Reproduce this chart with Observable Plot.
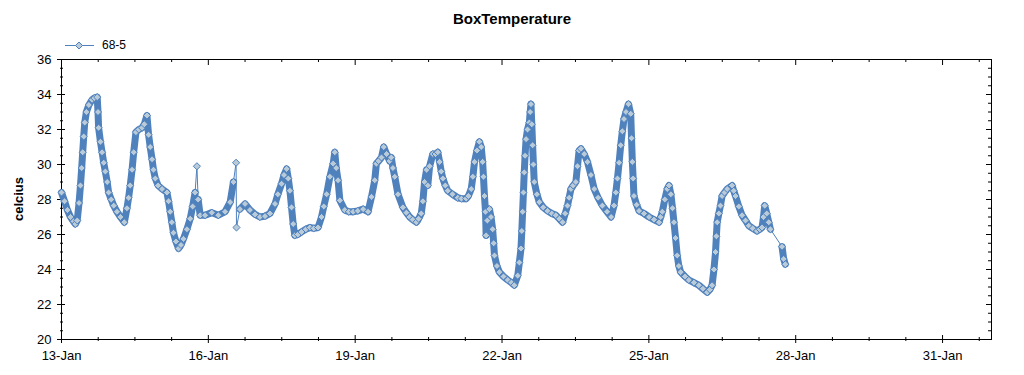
<!DOCTYPE html>
<html><head><meta charset="utf-8">
<script src="https://cdn.jsdelivr.net/npm/d3@7"></script>
<script src="https://cdn.jsdelivr.net/npm/@observablehq/plot@0.6"></script>
<style>
body{margin:0;background:#fff;font-family:"Liberation Sans",Arial,sans-serif;color:#000}
#wrap{position:relative;width:1024px;height:375px;overflow:hidden;background:#fff}
#chart{position:absolute;left:0;top:0}
#title{position:absolute;left:0;width:1024px;top:10px;line-height:17px;text-align:center;font-weight:bold;font-size:15px}
#legsym{position:absolute;left:64px;top:39px}
#legtxt{position:absolute;left:102px;top:38px;font-size:12px;line-height:14px}
#ylabel{position:absolute;left:18px;top:199px;transform:translate(-50%,-50%) rotate(-90deg);font-weight:bold;font-size:13px;white-space:nowrap}
</style></head><body>
<div id="wrap"><div id="chart"></div><div id="title"></div>
<svg id="legsym" width="31" height="13"></svg><div id="legtxt"></div><div id="ylabel"></div></div>
<script>
const chartTitle = "BoxTemperature";
const yLabel = "celcius";
const seriesName = "68-5";
const startDate = "2013-01-13";
const endDate = "2013-02-01";
// hours since 13-Jan 00:00
const hours = [
0,1.5,2.9,4.4,5.9,6.8,7.7,8.6,9.3,9.9,
10.4,10.9,11.4,12.2,13.4,15.0,16.1,17.5,17.9,18.2,
19.1,19.9,20.7,21.5,22.4,23.1,24.4,25.6,27.2,28.9,
30.8,32.1,32.9,33.7,34.6,35.4,36.5,37.9,39.5,40.6,
41.9,42.7,43.5,44.4,45.1,46.0,47.4,49.3,51.7,52.5,
53.3,54.1,54.9,56.1,57.4,58.6,59.8,61.5,63.1,64.3,
65.5,66.4,67.0,68.0,70.4,73.7,76.9,80.2,82.7,84.3,
85.6,85.8,87.5,90.0,92.4,94.9,97.3,99.8,102.2,104.7,
106.1,107.9,109.1,110.4,111.2,112.0,112.8,113.6,114.4,115.9,
117.7,119.8,121.8,123.7,125.8,127.5,128.6,130.0,131.6,133.2,
134.0,134.7,135.6,136.5,138.9,140.9,143.0,145.3,147.9,150.3,
152.0,153.6,154.4,155.5,156.9,158.0,159.4,160.9,161.7,162.5,
163.4,165.0,167.4,169.1,170.7,172.2,174.0,175.1,176.4,177.2,
178.0,179.0,179.6,180.5,182.1,183.4,184.5,185.4,186.2,187.0,
188.2,189.4,191.7,194.3,196.1,198.4,199.5,200.9,201.7,202.5,
203.7,204.9,205.8,206.5,206.9,207.4,207.9,208.2,208.8,209.8,
210.6,211.4,211.9,212.3,213.5,214.7,216.7,218.8,220.6,222.0,
223.7,224.5,225.3,225.7,226.1,226.5,226.9,227.3,227.8,228.5,
229.4,229.8,230.2,230.6,231.0,231.4,231.8,233.1,234.3,236.2,238.3,
240.4,242.4,244.1,245.7,247.0,248.1,248.9,249.8,250.9,252.2,
253.0,253.8,254.7,256.3,257.9,259.6,261.2,263.1,265.2,267.5,
269.5,270.9,271.8,272.6,273.4,274.2,275.0,275.8,276.8,278.0,
279.1,279.5,279.9,280.3,280.7,282.0,283.2,285.6,288.1,290.5,
293.0,293.8,294.6,295.8,297.0,297.9,298.8,299.6,300.3,301.1,
301.9,302.7,303.6,305.7,307.6,310.1,312.5,314.5,316.6,317.9,
319.0,319.9,320.7,321.1,321.5,322.3,323.1,323.9,325.1,326.4,
328.8,329.6,330.5,332.1,333.7,335.4,337.0,338.9,341.0,342.4,
343.5,344.2,344.8,345.8,346.8,347.6,353.3,354.1,354.9
];
const celsius = [
28.4,27.9,27.4,27.0,26.75,26.6,26.8,27.8,28.8,29.8,
30.7,31.6,32.4,33.0,33.4,33.7,33.8,33.85,33.0,32.1,
31.3,30.7,30.1,29.6,29.0,28.4,28.0,27.65,27.3,27.0,
26.7,27.5,28.1,28.8,29.7,30.7,31.85,32.0,32.1,32.3,
32.8,31.7,31.0,30.3,29.7,29.2,28.8,28.6,28.4,27.9,
27.3,26.7,26.1,25.6,25.2,25.4,25.75,26.3,26.9,27.6,
28.4,29.9,28.0,27.1,27.1,27.25,27.1,27.3,27.85,29.0,
30.1,26.4,27.45,27.75,27.4,27.15,27.0,27.05,27.2,27.75,
28.3,28.9,29.4,29.75,29.2,28.5,27.55,26.6,25.95,26.0,
26.15,26.3,26.4,26.35,26.4,27.0,27.6,28.3,29.3,30.05,
30.7,29.8,29.1,27.95,27.4,27.3,27.3,27.35,27.45,27.3,
28.15,29.1,30.05,30.2,30.4,31.0,30.6,30.2,30.4,29.8,
29.3,28.3,27.55,27.25,27.0,26.85,26.7,26.9,27.2,27.9,
29.0,29.7,28.8,29.9,30.6,30.6,30.7,30.15,29.6,29.2,
28.8,28.5,28.3,28.1,28.05,28.05,28.2,28.6,29.3,30.15,
30.8,31.3,31.0,30.15,29.3,28.2,27.3,25.95,26.8,27.45,
27.0,26.3,25.5,24.8,24.2,23.85,23.6,23.4,23.25,23.1,
23.65,24.4,25.2,26.2,27.3,28.4,29.55,30.5,31.45,32.0,
32.4,33.0,33.45,32.3,31.1,30.0,29.0,28.3,27.85,27.55,27.35,
27.2,27.1,26.9,26.7,27.2,27.65,28.1,28.6,28.8,29.0,
29.9,30.8,30.9,30.6,30.15,29.4,28.6,28.1,27.65,27.3,
27.0,27.65,28.4,29.2,30.1,31.1,31.9,32.6,33.0,33.45,
32.9,31.5,30.15,29.2,28.2,27.7,27.35,27.2,27.0,26.85,
26.7,27.0,27.3,28.0,28.6,28.8,28.3,27.5,26.7,25.8,
24.8,24.2,23.85,23.6,23.4,23.25,23.1,22.9,22.7,22.85,
23.1,24.0,25.0,25.9,26.7,27.2,27.65,28.2,28.4,28.6,
28.8,28.5,28.2,27.6,27.1,26.8,26.5,26.35,26.2,26.3,
26.4,27.0,27.65,27.2,26.7,26.3,25.3,24.6,24.3
];
const yTicks = [20,22,24,26,28,30,32,34,36];
const xTickDates = ["2013-01-13","2013-01-16","2013-01-19","2013-01-22","2013-01-25","2013-01-28","2013-01-31"];
const xTickLabels = ["13-Jan","16-Jan","19-Jan","22-Jan","25-Jan","28-Jan","31-Jan"];

if (hours.length !== celsius.length) throw new Error("length mismatch " + hours.length + " vs " + celsius.length);

const BLUE = "#4f81bd", FILL = "#b9cbd9";
const W = 1024, H = 375, mL = 61, mR = 33, mT = 59, mB = 36;
const fw = W - mL - mR, fh = H - mT - mB;
const base = new Date(startDate + "T00:00:00Z");
const end = new Date(endDate + "T00:00:00Z");
const data = hours.map((h, i) => ({t: new Date(+base + h * 3600e3), v: celsius[i]}));
// dense band: break where readings are sparse (long gaps) or at isolated spikes
const band = data.map((d, i) => {
  const p = data[i - 1], n = data[i + 1];
  const spike = p && n && ((d.v - p.v > 1 && d.v - n.v > 1) || (p.v - d.v > 1 && n.v - d.v > 1));
  const gapBefore = p && (d.t - p.t) > 4 * 3600e3;
  return {t: d.t, v: (spike || (gapBefore && !n)) ? NaN : d.v, gapBefore};
});
const bandSegs = [];
let seg = 0;
band.forEach(d => { if (d.gapBefore) seg++; bandSegs.push({...d, seg}); });
const majorX = xTickDates.map(d => new Date(d + "T00:00:00Z"));
const labelOf = new Map(majorX.map((d, i) => [+d, xTickLabels[i]]));
const minorX = d3.range(0, (end - base) / 3600e3 + 0.01, 18).map(h => new Date(+base + h * 3600e3)).filter(d => !labelOf.has(+d));
const minorY = d3.range(20, 36.01, 0.5).filter(v => !yTicks.includes(v));

const chart = Plot.plot({
  width: W, height: H, marginLeft: mL, marginRight: mR, marginTop: mT, marginBottom: mB,
  style: {fontFamily: "'Liberation Sans', Arial, sans-serif", fontSize: "13px", color: "#000", background: "#fff"},
  x: {type: "utc", domain: [base, end]},
  y: {domain: [20, 36]},
  marks: [
    Plot.frame({stroke: "#000"}),
    Plot.axisX({ticks: majorX, tickSize: 0, tickPadding: 11, tickFormat: d => labelOf.get(+d), label: null}),
    Plot.axisY({ticks: yTicks, tickSize: 0, tickPadding: 10, label: null}),
    Plot.tickX(majorX, {x: d => d, insetTop: fh - 4, insetBottom: -4, stroke: "#000"}),
    Plot.tickX(minorX, {x: d => d, insetTop: fh - 2, insetBottom: -2, stroke: "#000"}),
    Plot.tickX(majorX, {x: d => d, insetTop: 0, insetBottom: fh - 6, stroke: "#000"}),
    Plot.tickX(minorX, {x: d => d, insetTop: 0, insetBottom: fh - 3, stroke: "#000"}),
    Plot.tickY(yTicks, {y: d => d, insetLeft: -4, insetRight: fw - 4, stroke: "#000"}),
    Plot.tickY(minorY, {y: d => d, insetLeft: -1, insetRight: fw - 2, stroke: "#000"}),
    Plot.tickY(yTicks, {y: d => d, insetLeft: fw - 5, insetRight: 0, stroke: "#000"}),
    Plot.tickY(minorY, {y: d => d, insetLeft: fw - 3, insetRight: 0, stroke: "#000"}),
    Plot.line(bandSegs, {x: "t", y: "v", z: "seg", stroke: BLUE, strokeWidth: 7, strokeLinejoin: "round", strokeLinecap: "round"}),
    Plot.line(data, {x: "t", y: "v", stroke: BLUE, strokeWidth: 1}),
    Plot.dot(data, {x: "t", y: "v", symbol: "diamond2", r: 3.2, fill: FILL, stroke: BLUE, strokeWidth: 1})
  ]
});
document.getElementById("chart").appendChild(chart);
document.getElementById("title").textContent = chartTitle;
document.getElementById("ylabel").textContent = yLabel;
document.getElementById("legtxt").textContent = seriesName;
const leg = d3.select("#legsym");
leg.append("line").attr("x1", 1).attr("x2", 30).attr("y1", 6.5).attr("y2", 6.5).attr("stroke", BLUE);
leg.append("path").attr("d", d3.symbol(d3.symbolDiamond2, 31)()).attr("transform", "translate(15,6.5)").attr("fill", FILL).attr("stroke", BLUE);
</script>
</body></html>
